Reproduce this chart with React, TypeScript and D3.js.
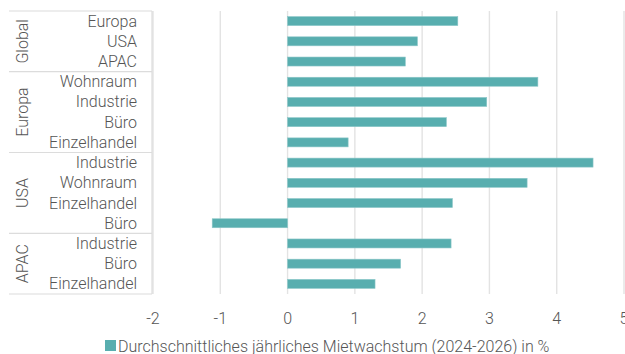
import React from "react";
import * as d3 from "d3";

const groups = ["Global", "Europa", "USA", "APAC"];
const groupOf = ["Global","Global","Global","Europa","Europa","Europa","Europa","USA","USA","USA","USA","APAC","APAC","APAC"];
const categories = ["Europa","USA","APAC","Wohnraum","Industrie","Büro","Einzelhandel","Industrie","Wohnraum","Einzelhandel","Büro","Industrie","Büro","Einzelhandel"];
const values = [2.53, 1.93, 1.75, 3.72, 2.96, 2.36, 0.90, 4.54, 3.56, 2.45, -1.12, 2.43, 1.68, 1.30];
const xTicks = [-2, -1, 0, 1, 2, 3, 4, 5];
const legendLabel = "Durchschnittliches jährliches Mietwachstum (2024-2026) in %";

const W = 625, H = 354;
const top = 11, bottom = 294;
const tableLeft = 9, tableRight = 152;
const font = "Roboto, 'Noto Sans', sans-serif";
const barColor = "#58AEAF";
const gridColor = "#E3E3E3";
const textColor = "#555";
const fs = 16;

export default function App() {
  const x = d3.scaleLinear().domain([-2, 5]).range([153, 624]);
  const rows = d3.range(categories.length);
  const y = d3.scaleBand<number>().domain(rows).range([top, bottom]).padding(0);
  const barH = 9;

  const groupSpans = groups.map((g) => {
    const idx = rows.filter((i) => groupOf[i] === g);
    const y0 = y(idx[0])!;
    const y1 = y(idx[idx.length - 1])! + y.bandwidth();
    return { g, y0, y1 };
  });

  return (
    <svg width={W} height={H} style={{ position: "absolute", left: 0, top: 0, background: "#fff" }} fontFamily={font}>
      {xTicks.map((t) => (
        <line key={"g" + t} x1={x(t)} x2={x(t)} y1={top} y2={bottom} stroke={gridColor} strokeWidth={1.4} />
      ))}
      {rows.map((i) => {
        const v = values[i];
        const x0 = x(Math.min(0, v));
        const x1 = x(Math.max(0, v));
        const yc = y(i)! + y.bandwidth() / 2;
        return (
          <rect key={"b" + i} x={x0} y={yc - barH / 2} width={x1 - x0} height={barH}
            fill={barColor} stroke="#8CC7C8" strokeWidth={0.6} />
        );
      })}
      {groupSpans.map((s, k) => (
        <line key={"h" + k} x1={tableLeft} x2={tableRight} y1={s.y0} y2={s.y0} stroke="#DCDCDC" strokeWidth={1.2} />
      ))}
      <line x1={tableLeft} x2={tableRight} y1={bottom} y2={bottom} stroke="#DCDCDC" strokeWidth={1.2} />
      <line x1={tableRight} x2={tableRight} y1={top} y2={bottom} stroke="#DCDCDC" strokeWidth={1.2} />
      {groupSpans.map((s) => (
        <text key={"gl" + s.g} transform={`translate(22,${(s.y0 + s.y1) / 2}) rotate(-90)`}
          textAnchor="middle" dominantBaseline="central" fontSize={fs} fontWeight={300} fill={textColor}>
          {s.g}
        </text>
      ))}
      {rows.map((i) => (
        <text key={"c" + i} x={137} y={y(i)! + y.bandwidth() / 2} textAnchor="end" dominantBaseline="central"
          fontSize={fs} fontWeight={300} fill={textColor}>
          {categories[i]}
        </text>
      ))}
      {xTicks.map((t) => (
        <text key={"t" + t} x={x(t)} y={318} textAnchor="middle" dominantBaseline="central"
          fontSize={fs} fontWeight={300} fill={textColor}>
          {t}
        </text>
      ))}
      <rect x={105} y={340} width={11} height={11} fill={barColor} />
      <text x={118} y={346} dominantBaseline="central" fontSize={fs} fontWeight={300} fill={textColor}>
        {legendLabel}
      </text>
    </svg>
  );
}
